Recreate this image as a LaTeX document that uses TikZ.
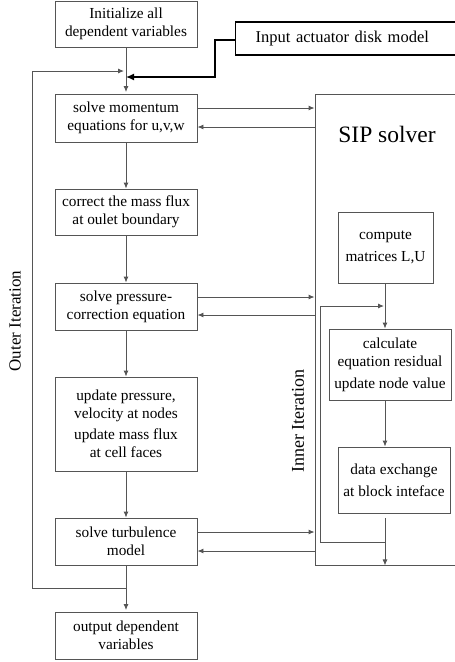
\documentclass[tikz,border=0pt]{standalone}
\usepackage{fontspec}
\setmainfont{Liberation Serif}
\usetikzlibrary{arrows.meta,calc}
\definecolor{ln}{HTML}{555555}
\newcommand\bxfont{\fontsize{15.3}{18}\selectfont}
\tikzset{
  box/.style={draw=ln, line width=0.9pt, rectangle, align=center, font=\bxfont, inner sep=0pt},
  conn/.style={draw=ln, line width=0.9pt, -{Latex[length=6pt,width=5pt]}},
}
\begin{document}
\begin{tikzpicture}[x=1pt,y=-1pt]
\useasboundingbox (0,0) rectangle (455,662);
% left column
\node[box, minimum width=142, minimum height=46] (init) at (126,24) {Initialize all\\dependent variables};
\node[box, minimum width=142, minimum height=48] (mom) at (126,118) {solve momentum\\equations for u,v,w};
\node[box, minimum width=142, minimum height=46] (mass) at (126,212) {correct the mass flux\\at oulet boundary};
\node[box, minimum width=142, minimum height=47] (pres) at (126,306.5) {solve pressure-\\correction equation};
\node[box, minimum width=142, minimum height=94] (upd) at (126,424) {update pressure,\\velocity at nodes\\[3pt]update mass flux\\at cell faces};
\node[box, minimum width=142, minimum height=47] (turb) at (126,541.5) {solve turbulence\\model};
\node[box, minimum width=142, minimum height=47] (out) at (126,635.5) {output dependent\\variables};
% input box
\node[draw=black, line width=1.4pt, anchor=west, minimum height=33, inner xsep=20pt, text width=215pt, align=left, font=\fontsize{16.5}{18}\selectfont] (inp) at (235,38.5) {Input actuator disk model};
% SIP solver
\node[draw=ln, line width=0.9pt, minimum width=165, minimum height=471, inner sep=0pt] (sip) at (397.5,329.5) {};
\node[font=\fontsize{23.5}{26}\selectfont] (siplab) at (387,134) {SIP solver};
\node[box, minimum width=95, minimum height=71] (comp) at (385.5,247.5) {compute\\[4pt]matrices L,U};
\node[box, minimum width=122, minimum height=71] (calc) at (390,364.5) {calculate\\equation residual\\[4pt]update node value};
\node[box, minimum width=112, minimum height=66] (data) at (394,480) {data exchange\\[4pt]at block inteface};
% labels
\node[rotate=90, font=\fontsize{17}{18}\selectfont] (outer) at (15,321) {Outer Iteration};
\node[rotate=90, font=\fontsize{18}{18}\selectfont] (inner) at (298,421) {Inner Iteration};
% coordinates
\coordinate (j1) at (126,77);
\coordinate (ot) at (124,71);
\coordinate (ob) at (126,588);
\coordinate (ib) at (385,542);
\coordinate (it) at (384,306);
% main flow
\draw[conn] (init.south) -- ([yshift=1.5pt]mom.north);
\draw[conn] (mom.south) -- (mass.north);
\draw[conn] (mass.south) -- (pres.north);
\draw[conn] (pres.south) -- (upd.north);
\draw[conn] (upd.south) -- (turb.north);
\draw[conn] (turb.south) -- ([yshift=1.5pt]out.north);
% input arrow
\draw[line width=1.4pt, black, -{Latex[length=8pt,width=7pt]}] ([yshift=-1.5pt]inp.west) -- ++(-20,0) |- (j1);
% outer loop
\draw[conn] (ob) -- (32,588) -- (32,71) -- (ot);
% to/from SIP
\draw[conn] ([yshift=10pt]mom.east) -- ([yshift=10pt]mom.east -| sip.west);
\draw[conn] ([yshift=-9pt]mom.east -| sip.west) -- ([yshift=-9pt]mom.east);
\draw[conn] ([yshift=9.5pt]pres.east) -- ([yshift=9.5pt]pres.east -| sip.west);
\draw[conn] ([yshift=-8.5pt]pres.east -| sip.west) -- ([yshift=-8.5pt]pres.east);
\draw[conn] ([yshift=9.5pt]turb.east) -- ([yshift=9.5pt]turb.east -| sip.west);
\draw[conn] ([yshift=-9.5pt]turb.east -| sip.west) -- ([yshift=-9.5pt]turb.east);
% inner flow
\draw[conn] (ib |- comp.south) -- (ib |- calc.north);
\draw[conn] (ib |- calc.south) -- (ib |- data.north);
\draw[conn] ([yshift=-5pt]ib |- data.south) -- (ib |- sip.south);
\draw[conn] (ib) -- (320,542) -- (320,306) -- (it);
\end{tikzpicture}
\end{document}
